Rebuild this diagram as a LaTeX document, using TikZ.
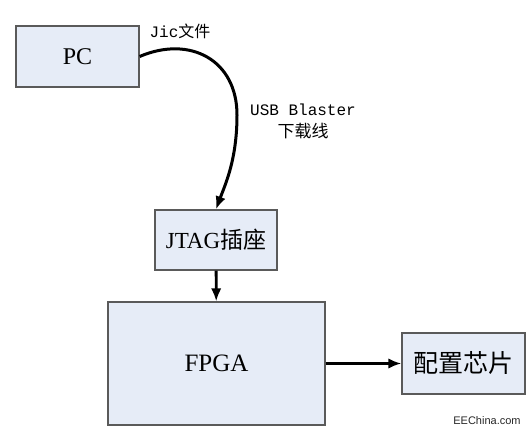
\documentclass[tikz,border=0pt]{standalone}
\usepackage{fontspec}
\setmainfont{Liberation Serif}
\newfontfamily\cjk{Noto Sans CJK SC}
\newfontfamily\monolbl{Liberation Mono}
\newfontfamily\webfont{Liberation Sans}
\usepackage{tikz}
\usetikzlibrary{arrows.meta, positioning}
\definecolor{boxfill}{HTML}{E6ECF7}
\definecolor{boxline}{HTML}{5A5A5A}

\begin{document}
\begin{tikzpicture}[x=1pt, y=-1pt, align=center,
    unit/.style={draw=boxline, fill=boxfill, line width=1.3pt, inner sep=0pt},
    arrow/.style={-{Latex[length=13pt, width=10.5pt]}, line width=2.8pt}
]
    \useasboundingbox (0,0) rectangle (530,435);
    \node[unit, minimum width=123pt, minimum height=61pt, font=\fontsize{24}{28}\selectfont] (pc) at (77.5,56.5) {PC};
    \node[unit, minimum width=122pt, minimum height=60pt, font=\fontsize{23}{27}\selectfont] (jtag) at (216,240) {JTAG{\cjk 插座}};
    \node[unit, minimum width=217pt, minimum height=123pt, font=\fontsize{25}{29}\selectfont] (fpga) at (216.5,363.5) {FPGA};
    \node[unit, minimum width=123pt, minimum height=61pt, font=\fontsize{25}{29}\cjk] (chip) at (463.5,363.5) {配置芯片};

    % labels
    \node[font=\fontsize{16}{20}\selectfont] (jic) at (180,31) {{\monolbl Jic}{\cjk 文件}};
    \node[font=\fontsize{16}{22}\selectfont] (usb) at (303,121) {{\monolbl USB Blaster}\\{\cjk\fontsize{17}{22}\selectfont 下载线}};
    \node[font=\fontsize{11}{13}\webfont, text=black!85] (site) at (487,421) {EEChina.com};

    % connectors
    \draw[arrow, line width=3pt] (pc.east) .. controls (190,35) and (237,60) .. (237,115)
        .. controls (237,160) and (225,185) .. (jtag.north);
    \draw[arrow] (jtag) -- (fpga);
    \draw[arrow] (fpga) -- (chip);
\end{tikzpicture}
\end{document}
